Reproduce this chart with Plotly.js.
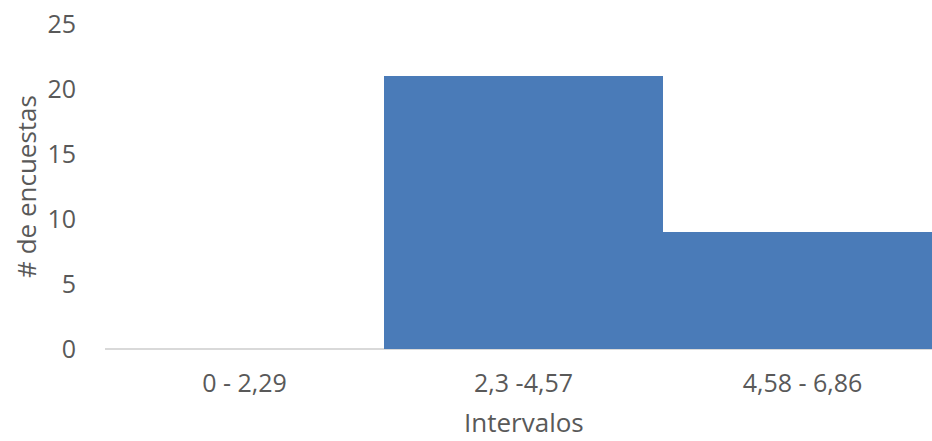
<!DOCTYPE html>
<html>
<head>
<meta charset="utf-8">
<script src="https://cdn.plot.ly/plotly-3.0.1.min.js"></script>
<style>
  html, body { margin: 0; padding: 0; background: #ffffff; }
  #chart { width: 932px; height: 441px; }
</style>
</head>
<body>
<div id="chart"></div>
<script>
// Frequency of surveys per interval
const intervalos = ['0 - 2,29', '2,3 -4,57', '4,58 - 6,86'];
const encuestas = [0, 21, 9];
const yTicks = [0, 5, 10, 15, 20, 25];
const xTitle = 'Intervalos';
const yTitle = '# de encuestas';

const textColor = '#595959';
const fontFamily = '"Open Sans", "DejaVu Sans", sans-serif';

const trace = {
  type: 'bar',
  x: intervalos,
  y: encuestas,
  marker: { color: '#4a7bb8', line: { width: 0 } },
  hoverinfo: 'x+y'
};

const layout = {
  width: 932,
  height: 441,
  margin: { l: 105, r: 0, t: 24, b: 92 },
  paper_bgcolor: '#ffffff',
  plot_bgcolor: '#ffffff',
  bargap: 0,
  showlegend: false,
  font: { family: fontFamily, color: textColor, size: 25 },
  xaxis: {
    type: 'category',
    range: [-0.5, 2.464],
    showgrid: false,
    zeroline: false,
    showline: false,
    ticks: '',
    ticklabelstandoff: 17,
    tickfont: { size: 25, color: textColor }
  },
  yaxis: {
    range: [0, 25],
    tickvals: yTicks,
    showgrid: false,
    zeroline: true,
    zerolinecolor: '#d9d9d9',
    zerolinewidth: 1.5,
    showline: false,
    ticks: '',
    ticklabelstandoff: 28,
    tickfont: { size: 25, color: textColor },
    title: { text: yTitle, font: { size: 26, color: textColor }, standoff: 3 }
  },
  // x-axis title, centred under the middle category, close to the bottom edge
  annotations: [{
    text: xTitle,
    xref: 'x', yref: 'paper',
    x: intervalos[1],
    y: 0,
    xanchor: 'center', yanchor: 'top',
    yshift: -53,
    showarrow: false,
    font: { size: 26, color: textColor }
  }]
};

Plotly.newPlot('chart', [trace], layout, { displayModeBar: false, staticPlot: true });
</script>
</body>
</html>
